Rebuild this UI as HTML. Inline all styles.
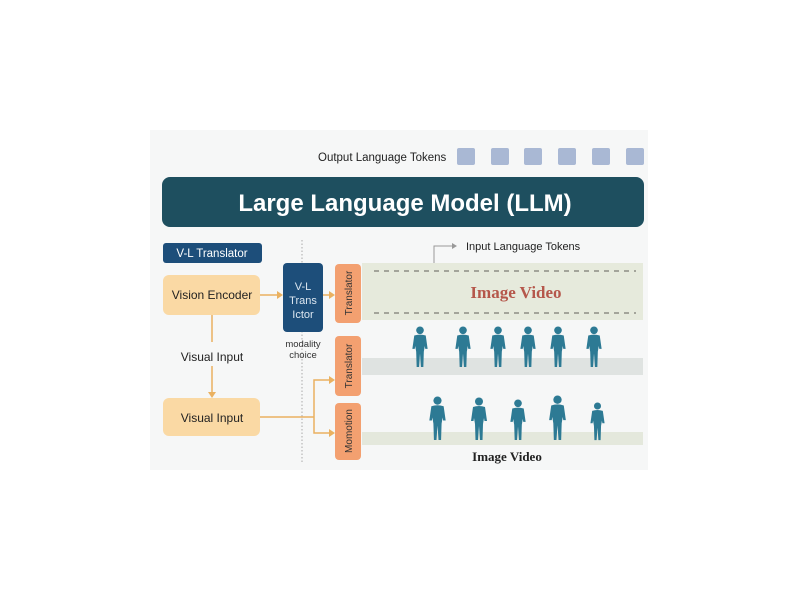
<!DOCTYPE html>
<html><head><meta charset="utf-8"><style>
html,body{margin:0;padding:0;background:#fff;width:800px;height:600px;overflow:hidden}
svg{display:block;font-family:"Liberation Sans",sans-serif}
</style></head><body>
<svg width="800" height="600" viewBox="0 0 800 600" xmlns="http://www.w3.org/2000/svg">
<defs>
<symbol id="p" viewBox="0 0 20 44">
<circle cx="10" cy="4.5" r="4" fill="#2d7a94"/>
<path d="M4 10 Q10 8 16 10 L18 24 L15.5 24 L15 21 L14 27 L13.5 43 L11 43 L10 29 L9 43 L6.5 43 L6 27 L5 21 L4.5 24 L2 24 Z" fill="#2d7a94"/>
</symbol>
</defs>
<rect x="150" y="130" width="498" height="340" fill="#f6f7f7"/>
<text x="318" y="161" font-size="11.5" fill="#222">Output Language Tokens</text>
<g fill="#a9b8d4">
<rect x="457" y="148" width="18" height="17" rx="2"/><rect x="491" y="148" width="18" height="17" rx="2"/>
<rect x="524" y="148" width="18" height="17" rx="2"/><rect x="558" y="148" width="18" height="17" rx="2"/>
<rect x="592" y="148" width="18" height="17" rx="2"/><rect x="626" y="148" width="18" height="17" rx="2"/>
</g>
<rect x="162" y="177" width="482" height="50" rx="8" fill="#1e4f5f"/>
<text x="405" y="211" font-size="24" font-weight="bold" fill="#fff" text-anchor="middle">Large Language Model (LLM)</text>
<rect x="163" y="243" width="99" height="20" rx="3" fill="#1d4e7a"/>
<text x="212" y="257" font-size="11.5" fill="#fff" text-anchor="middle">V-L Translator</text>
<line x1="302" y1="240" x2="302" y2="462" stroke="#aaa" stroke-width="1" stroke-dasharray="1.5,2"/>
<path d="M434 263 V246 H452" fill="none" stroke="#999" stroke-width="1"/>
<path d="M452 243 L457 246 L452 249 Z" fill="#999"/>
<text x="466" y="250" font-size="11" fill="#222">Input Language Tokens</text>
<rect x="163" y="275" width="97" height="40" rx="6" fill="#fad9a4"/>
<text x="212" y="299" font-size="12" fill="#222" text-anchor="middle">Vision Encoder</text>
<rect x="283" y="263" width="40" height="69" rx="4" fill="#1d4e7a"/>
<text x="303" y="290" font-size="11" fill="#dbe6f0" text-anchor="middle">V-L</text>
<text x="303" y="304" font-size="11" fill="#dbe6f0" text-anchor="middle">Trans</text>
<text x="303" y="318" font-size="11" fill="#dbe6f0" text-anchor="middle">Ictor</text>
<text x="303" y="347" font-size="9.5" fill="#333" text-anchor="middle">modality</text>
<text x="303" y="358" font-size="9.5" fill="#333" text-anchor="middle">choice</text>
<g stroke="#eab160" stroke-width="1.5" fill="none">
<line x1="260" y1="295" x2="278" y2="295"/>
<line x1="323" y1="295" x2="330" y2="295"/>
<line x1="212" y1="315" x2="212" y2="342"/>
<line x1="212" y1="366" x2="212" y2="392"/>
<path d="M260 417 H314 V380 H330 M314 417 V433 H330"/>
</g>
<g fill="#eab160">
<path d="M277 291 L283 295 L277 299Z"/><path d="M329 291 L335 295 L329 299Z"/>
<path d="M208 392 L212 398 L216 392Z"/>
<path d="M329 376 L335 380 L329 384Z"/><path d="M329 429 L335 433 L329 437Z"/>
</g>
<text x="212" y="361" font-size="12" fill="#222" text-anchor="middle">Visual Input</text>
<rect x="163" y="398" width="97" height="38" rx="6" fill="#fad9a4"/>
<text x="212" y="422" font-size="12" fill="#222" text-anchor="middle">Visual  Input</text>
<rect x="335" y="264" width="26" height="59" rx="4" fill="#f3a070"/>
<rect x="335" y="336" width="26" height="60" rx="4" fill="#f3a070"/>
<rect x="335" y="403" width="26" height="57" rx="4" fill="#f3a070"/>
<text transform="translate(352,293) rotate(-90)" font-size="10" fill="#333" text-anchor="middle">Translator</text>
<text transform="translate(352,366) rotate(-90)" font-size="10" fill="#333" text-anchor="middle">Translator</text>
<text transform="translate(352,431) rotate(-90)" font-size="10" fill="#333" text-anchor="middle">Momotion</text>
<rect x="362" y="263" width="281" height="57" fill="#e6eadc"/>
<line x1="374" y1="271" x2="636" y2="271" stroke="#7b7b72" stroke-width="1.3" stroke-dasharray="5,5"/>
<line x1="374" y1="313" x2="636" y2="313" stroke="#7b7b72" stroke-width="1.3" stroke-dasharray="5,5"/>
<text x="516" y="298" font-size="17" font-weight="bold" fill="#b5574b" text-anchor="middle" font-family="Liberation Serif,serif">Image Video</text>
<rect x="362" y="358" width="281" height="17" fill="#dfe3e1"/>
<rect x="362" y="432" width="281" height="13" fill="#e4e8dc"/>
<use href="#p" x="410" y="326" width="20" height="42"/>
<use href="#p" x="453" y="326" width="20" height="42"/>
<use href="#p" x="488" y="326" width="20" height="42"/>
<use href="#p" x="518" y="326" width="20" height="42"/>
<use href="#p" x="548" y="326" width="20" height="42"/>
<use href="#p" x="584" y="326" width="20" height="42"/>
<use href="#p" x="427" y="396" width="21" height="45"/>
<use href="#p" x="469" y="397" width="20" height="44"/>
<use href="#p" x="508" y="399" width="20" height="42"/>
<use href="#p" x="547" y="395" width="21" height="46"/>
<use href="#p" x="588" y="402" width="19" height="39"/>
<text x="507" y="461" font-size="13" font-weight="bold" fill="#222" text-anchor="middle" font-family="Liberation Serif,serif">Image Video</text>
</svg>
</body></html>
